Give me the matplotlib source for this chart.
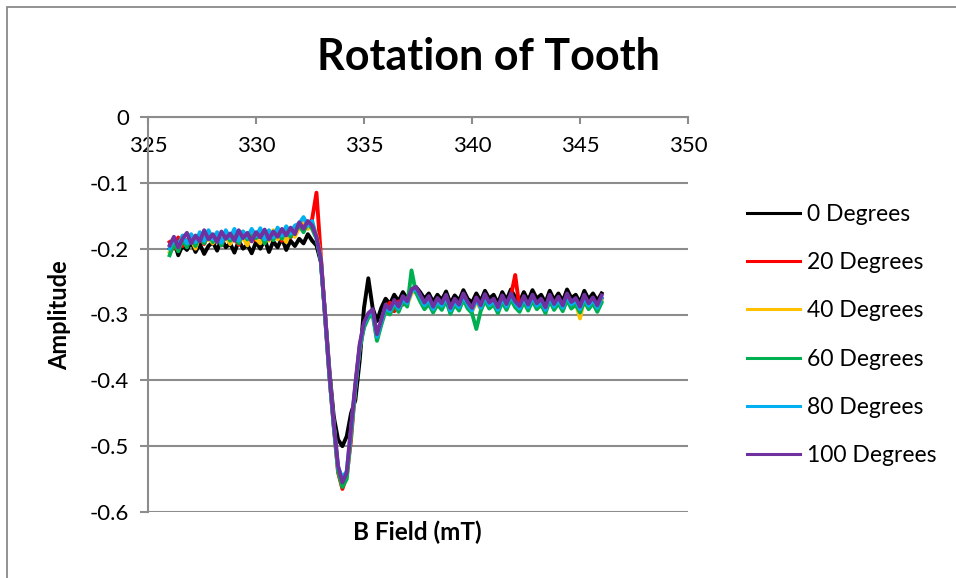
import numpy as np
import matplotlib
matplotlib.use("Agg")
import matplotlib.pyplot as plt
from matplotlib.patches import Rectangle
from matplotlib.ticker import FixedLocator, FuncFormatter

plt.rcParams['font.family'] = ['Lato', 'DejaVu Sans']

# B field sampling (mT), 326.0 .. 346.0 step 0.2
b_field = np.round(np.arange(326.0, 346.0001, 0.2), 1)

deg0 = [
    -0.200, -0.188, -0.210, -0.195, -0.202, -0.190, -0.205, -0.193, -0.208, -0.196,
    -0.190, -0.203, -0.185, -0.198, -0.192, -0.206, -0.188, -0.200, -0.194, -0.207,
    -0.190, -0.200, -0.186, -0.205, -0.189, -0.198, -0.184, -0.202, -0.188, -0.196,
    -0.185, -0.192, -0.178, -0.188, -0.195, -0.220, -0.300, -0.385, -0.455, -0.490,
    -0.500, -0.485, -0.450, -0.430, -0.370, -0.290, -0.245, -0.290, -0.310, -0.290,
    -0.276, -0.284, -0.270, -0.280, -0.266, -0.276, -0.262, -0.258, -0.266, -0.276,
    -0.268, -0.281, -0.270, -0.278, -0.265, -0.283, -0.271, -0.279, -0.263, -0.276,
    -0.282, -0.268, -0.280, -0.264, -0.276, -0.270, -0.283, -0.266, -0.278, -0.262,
    -0.274, -0.281, -0.266, -0.279, -0.263, -0.276, -0.270, -0.282, -0.264, -0.278,
    -0.268, -0.280, -0.262, -0.275, -0.270, -0.282, -0.264, -0.277, -0.268, -0.279,
    -0.268]

deg20 = [
    -0.190, -0.200, -0.183, -0.196, -0.188, -0.180, -0.197, -0.185, -0.193, -0.178,
    -0.188, -0.181, -0.195, -0.179, -0.190, -0.183, -0.194, -0.177, -0.188, -0.182,
    -0.187, -0.176, -0.190, -0.179, -0.185, -0.175, -0.188, -0.173, -0.183, -0.172,
    -0.166, -0.158, -0.168, -0.155, -0.115, -0.210, -0.305, -0.395, -0.470, -0.540,
    -0.565, -0.545, -0.490, -0.410, -0.350, -0.318, -0.300, -0.296, -0.335, -0.312,
    -0.290, -0.282, -0.295, -0.280, -0.285, -0.276, -0.266, -0.262, -0.275, -0.285,
    -0.278, -0.290, -0.280, -0.287, -0.274, -0.292, -0.280, -0.288, -0.272, -0.285,
    -0.292, -0.278, -0.289, -0.273, -0.285, -0.280, -0.292, -0.275, -0.287, -0.272,
    -0.240, -0.290, -0.276, -0.288, -0.274, -0.287, -0.280, -0.292, -0.274, -0.287,
    -0.278, -0.290, -0.272, -0.285, -0.279, -0.292, -0.274, -0.286, -0.278, -0.290,
    -0.276]

deg40 = [
    -0.205, -0.190, -0.200, -0.182, -0.194, -0.186, -0.200, -0.178, -0.190, -0.184,
    -0.192, -0.176, -0.189, -0.181, -0.193, -0.178, -0.190, -0.183, -0.195, -0.176,
    -0.185, -0.192, -0.178, -0.188, -0.172, -0.186, -0.178, -0.190, -0.170, -0.182,
    -0.168, -0.155, -0.170, -0.160, -0.180, -0.212, -0.302, -0.392, -0.468, -0.535,
    -0.560, -0.548, -0.478, -0.408, -0.348, -0.316, -0.302, -0.298, -0.338, -0.314,
    -0.292, -0.298, -0.283, -0.294, -0.278, -0.286, -0.268, -0.264, -0.277, -0.290,
    -0.280, -0.294, -0.282, -0.290, -0.276, -0.296, -0.282, -0.291, -0.274, -0.288,
    -0.296, -0.280, -0.292, -0.276, -0.288, -0.282, -0.295, -0.278, -0.290, -0.274,
    -0.286, -0.293, -0.278, -0.291, -0.276, -0.289, -0.282, -0.295, -0.276, -0.290,
    -0.280, -0.292, -0.275, -0.288, -0.282, -0.306, -0.277, -0.289, -0.280, -0.293,
    -0.279]

deg60 = [
    -0.210, -0.192, -0.204, -0.186, -0.198, -0.182, -0.196, -0.180, -0.192, -0.176,
    -0.190, -0.180, -0.195, -0.175, -0.188, -0.179, -0.192, -0.174, -0.186, -0.180,
    -0.184, -0.174, -0.192, -0.176, -0.187, -0.172, -0.185, -0.170, -0.182, -0.168,
    -0.165, -0.175, -0.160, -0.170, -0.185, -0.218, -0.304, -0.394, -0.470, -0.538,
    -0.562, -0.550, -0.482, -0.412, -0.352, -0.320, -0.305, -0.300, -0.340, -0.316,
    -0.294, -0.300, -0.285, -0.296, -0.280, -0.288, -0.233, -0.266, -0.280, -0.292,
    -0.284, -0.297, -0.285, -0.293, -0.279, -0.299, -0.285, -0.294, -0.277, -0.291,
    -0.298, -0.322, -0.295, -0.279, -0.291, -0.285, -0.298, -0.281, -0.293, -0.277,
    -0.289, -0.296, -0.281, -0.294, -0.279, -0.292, -0.285, -0.298, -0.279, -0.293,
    -0.283, -0.295, -0.278, -0.291, -0.285, -0.297, -0.280, -0.292, -0.283, -0.296,
    -0.282]

deg80 = [
    -0.200, -0.185, -0.196, -0.180, -0.192, -0.178, -0.190, -0.175, -0.188, -0.172,
    -0.186, -0.175, -0.191, -0.172, -0.184, -0.170, -0.188, -0.174, -0.183, -0.170,
    -0.181, -0.169, -0.186, -0.172, -0.183, -0.168, -0.180, -0.166, -0.177, -0.165,
    -0.162, -0.152, -0.165, -0.158, -0.183, -0.216, -0.303, -0.393, -0.468, -0.532,
    -0.548, -0.538, -0.475, -0.408, -0.348, -0.315, -0.300, -0.295, -0.334, -0.311,
    -0.289, -0.295, -0.281, -0.291, -0.276, -0.283, -0.265, -0.260, -0.273, -0.286,
    -0.277, -0.292, -0.279, -0.287, -0.273, -0.294, -0.280, -0.289, -0.271, -0.285,
    -0.294, -0.277, -0.290, -0.272, -0.286, -0.279, -0.293, -0.274, -0.288, -0.271,
    -0.283, -0.291, -0.275, -0.289, -0.273, -0.287, -0.279, -0.293, -0.273, -0.288,
    -0.277, -0.290, -0.271, -0.285, -0.278, -0.292, -0.273, -0.287, -0.277, -0.290,
    -0.275]

deg100 = [
    -0.195, -0.182, -0.198, -0.185, -0.176, -0.192, -0.180, -0.189, -0.172, -0.186,
    -0.178, -0.190, -0.174, -0.185, -0.177, -0.188, -0.172, -0.184, -0.176, -0.189,
    -0.175, -0.183, -0.171, -0.186, -0.174, -0.182, -0.170, -0.180, -0.168, -0.178,
    -0.160, -0.170, -0.158, -0.165, -0.182, -0.215, -0.300, -0.390, -0.465, -0.530,
    -0.555, -0.540, -0.470, -0.405, -0.345, -0.312, -0.298, -0.292, -0.330, -0.308,
    -0.285, -0.292, -0.278, -0.288, -0.272, -0.280, -0.262, -0.258, -0.270, -0.282,
    -0.272, -0.288, -0.275, -0.283, -0.270, -0.290, -0.276, -0.285, -0.268, -0.281,
    -0.290, -0.274, -0.286, -0.269, -0.282, -0.276, -0.289, -0.271, -0.284, -0.268,
    -0.280, -0.287, -0.272, -0.285, -0.270, -0.283, -0.276, -0.289, -0.270, -0.284,
    -0.273, -0.286, -0.268, -0.281, -0.275, -0.288, -0.270, -0.283, -0.274, -0.286,
    -0.271]

series_labels = ['0 Degrees', '20 Degrees', '40 Degrees', '60 Degrees',
                 '80 Degrees', '100 Degrees']
series_values = [deg0, deg20, deg40, deg60, deg80, deg100]
series_colors = ['#000000', '#FF0000', '#FFC000', '#00B050', '#00B0F0', '#7030A0']

x_ticks = [325, 330, 335, 340, 345, 350]
y_ticks = [0, -0.1, -0.2, -0.3, -0.4, -0.5, -0.6]

W, H = 956, 578
fig = plt.figure(figsize=(W / 100, H / 100), dpi=100)

# chart-area border
fig.patches.append(Rectangle((7 / W, -0.05), 1.2, 1 - 7 / H + 0.05,
                             transform=fig.transFigure, fill=False,
                             edgecolor='#8a8a8a', linewidth=1.3))

ax = fig.add_axes([148 / W, 1 - 512 / H, (688 - 148) / W, (512 - 117) / H])

grid_c = '#8c8c8c'
handles = []
for vals, lab, col in zip(series_values, series_labels, series_colors):
    n = min(len(vals), len(b_field))
    h, = ax.plot(b_field[:n], vals[:n], color=col, linewidth=2.8,
                 solid_joinstyle='round', label=lab, zorder=3)
    handles.append(h)

ax.set_xlim(325, 350)
ax.set_ylim(-0.6, 0)
ax.xaxis.set_major_locator(FixedLocator(x_ticks))
ax.yaxis.set_major_locator(FixedLocator(y_ticks))
ax.xaxis.set_major_formatter(FuncFormatter(lambda v, p: f"{v:g}"))
ax.yaxis.set_major_formatter(FuncFormatter(lambda v, p: "0" if abs(v) < 1e-9 else f"{v:.1f}"))

ax.spines['bottom'].set_position(('data', 0))
ax.spines['top'].set_visible(False)
ax.spines['right'].set_visible(False)
for s in ('bottom', 'left'):
    ax.spines[s].set_color(grid_c)
    ax.spines[s].set_linewidth(1.5)
ax.spines['bottom'].set_zorder(2)

ax.grid(axis='y', color=grid_c, linewidth=1.5, zorder=1)
ax.set_axisbelow(True)
ax.tick_params(axis='x', direction='out', length=5, width=1.5, color=grid_c,
               labelsize=16, pad=9, labelcolor='#000000')
ax.tick_params(axis='y', direction='out', length=5.8, width=1.5, color=grid_c,
               labelsize=16, pad=8, labelcolor='#000000')

fig.text(488 / W, 1 - 57 / H, 'Rotation of Tooth', fontsize=31, fontweight='bold',
         ha='center', va='center')
fig.text(60 / W, 1 - 315 / H, 'Amplitude', fontsize=17, fontweight='bold',
         rotation=90, ha='center', va='center')
fig.text(417 / W, 1 - 532 / H, 'B Field (mT)', fontsize=17.5, fontweight='bold',
         ha='center', va='center')

leg = fig.legend(handles, series_labels, loc='center left',
                 bbox_to_anchor=(738 / W, 1 - 335 / H), frameon=False,
                 fontsize=16.5, handlelength=2.3, handletextpad=0.3,
                 labelspacing=1.19, borderaxespad=0)
for l in leg.get_lines():
    l.set_linewidth(2.2)

fig.savefig('out.png', dpi=100)
